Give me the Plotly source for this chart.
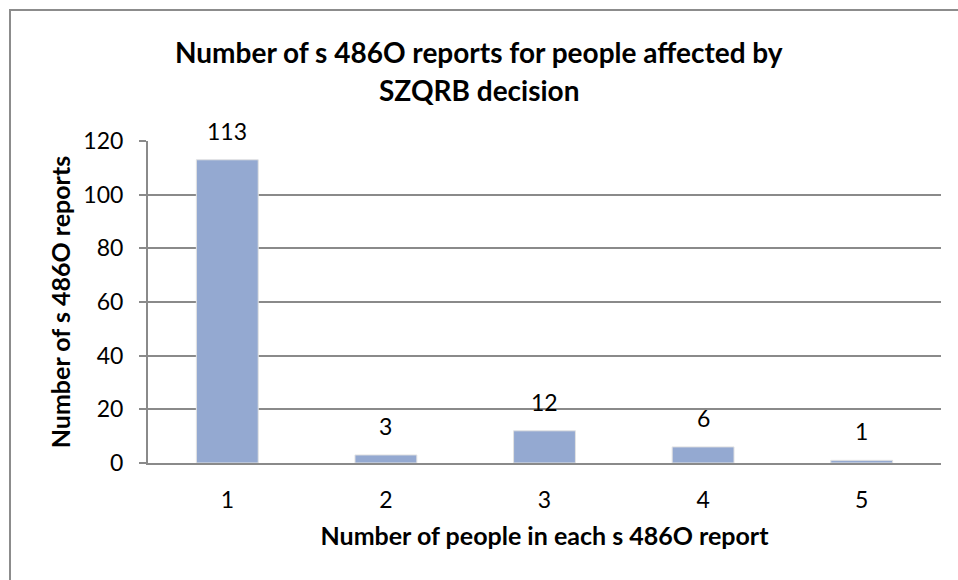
import plotly.graph_objects as go

# Chart data
people_per_report = ["1", "2", "3", "4", "5"]
report_counts = [113, 3, 12, 6, 1]
y_ticks = [0, 20, 40, 60, 80, 100, 120]

title_lines = ["Number of s 486O reports for people affected by", "SZQRB decision"]
x_title = "Number of people in each s 486O report"
y_title = "Number of s 486O reports"

FONT = "Lato"
BAR_COLOR = "#94a9d1"
GRID_COLOR = "#8a8a8a"
FRAME_COLOR = "#8c8c8c"

W, H = 958, 580
ML, MR, MT, MB = 148, 17, 141, 117
plot_w = W - ML - MR
plot_h = H - MT - MB


def px_x(px):
    """Convert a pixel column to paper x."""
    return (px - ML) / plot_w


def px_y(py):
    """Convert a pixel row to paper y."""
    return (H - MB - py) / plot_h


fig = go.Figure(
    go.Bar(
        x=people_per_report,
        y=report_counts,
        width=0.39,
        marker=dict(color=BAR_COLOR, line=dict(color="#e2e2e2", width=1)),
        hoverinfo="x+y",
    )
)

annotations = []
# value labels above each bar (category axis positions are indices)
for i, val in enumerate(report_counts):
    annotations.append(
        dict(
            x=i, y=val, xref="x", yref="y",
            text=str(val), showarrow=False,
            yanchor="bottom", yshift=13,
            font=dict(family=FONT, size=23, color="#000000"),
        )
    )

# two-line chart title
for line, py in zip(title_lines, [52, 90]):
    annotations.append(
        dict(
            x=px_x(479), y=px_y(py), xref="paper", yref="paper",
            text=f"<b>{line}</b>", showarrow=False,
            xanchor="center", yanchor="middle",
            font=dict(family=FONT, size=28, color="#000000"),
        )
    )

# outer chart frame (top and left edges visible)
shapes = [
    dict(type="line", xref="paper", yref="paper",
         x0=px_x(9), x1=px_x(W + 5), y0=px_y(10), y1=px_y(10),
         line=dict(color=FRAME_COLOR, width=2)),
    dict(type="line", xref="paper", yref="paper",
         x0=px_x(10), x1=px_x(10), y0=px_y(9), y1=px_y(H + 5),
         line=dict(color=FRAME_COLOR, width=2)),
]

fig.update_layout(
    width=W, height=H,
    margin=dict(l=ML, r=MR, t=MT, b=MB, pad=0),
    paper_bgcolor="white",
    plot_bgcolor="white",
    showlegend=False,
    font=dict(family=FONT, color="#000000"),
    annotations=annotations,
    shapes=shapes,
)

fig.update_xaxes(
    type="category", range=[-0.5, len(people_per_report) - 0.5],
    showline=True, linecolor=GRID_COLOR, linewidth=2,
    ticks="", showgrid=False,
    tickfont=dict(family=FONT, size=23, color="#000000"),
    ticklabelstandoff=15,
    title=dict(text=f"<b>{x_title}</b>", font=dict(family=FONT, size=25, color="#000000"), standoff=16),
)

fig.update_yaxes(
    range=[0, 120], tickvals=y_ticks,
    showgrid=True, gridcolor=GRID_COLOR, gridwidth=1.5,
    showline=True, linecolor=GRID_COLOR, linewidth=2,
    ticks="outside", ticklen=7, tickcolor=GRID_COLOR, tickwidth=1.5,
    zeroline=False,
    tickfont=dict(family=FONT, size=23, color="#000000"),
    ticklabelstandoff=11,
    title=dict(text=f"<b>{y_title}</b>", font=dict(family=FONT, size=25, color="#000000"), standoff=6),
)

fig.write_html("out.html")
